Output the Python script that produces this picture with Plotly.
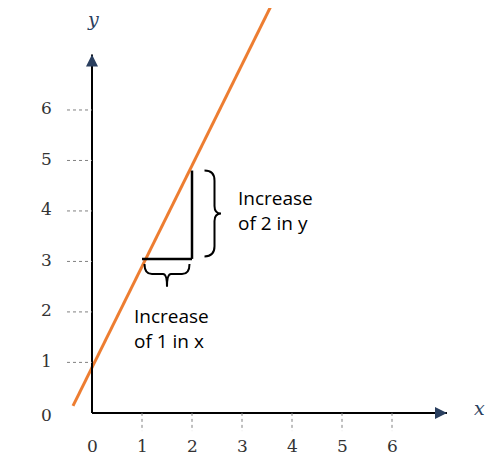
import plotly.graph_objects as go

tick_vals = [1, 2, 3, 4, 5, 6]
line_x = [-0.38, 3.58]
slope = 2
intercept = 0.9
rise_start = [1, 3.05]
rise_end = [2, 4.8]

fig = go.Figure()
fig.add_scatter(x=line_x, y=[slope * v + intercept for v in line_x], mode="lines",
                line=dict(color="#ED7D31", width=3), hoverinfo="skip")

shapes = []
# axes
shapes.append(dict(type="line", x0=0, y0=0, x1=7.1, y1=0, line=dict(color="black", width=2)))
shapes.append(dict(type="line", x0=0, y0=0, x1=0, y1=7.1, line=dict(color="black", width=2)))
# dotted ticks
for t in tick_vals:
    shapes.append(dict(type="line", x0=t, y0=0, x1=t, y1=-0.36, line=dict(color="gray", width=1, dash="dot")))
    shapes.append(dict(type="line", x0=-0.5, y0=t, x1=0, y1=t, line=dict(color="gray", width=1, dash="dot")))
# triangle
shapes.append(dict(type="line", x0=rise_start[0], y0=rise_start[1], x1=rise_end[0], y1=rise_start[1], line=dict(color="black", width=2.5)))
shapes.append(dict(type="line", x0=rise_end[0], y0=rise_start[1], x1=rise_end[0], y1=rise_end[1], line=dict(color="black", width=2.5)))
# vertical brace
vb = "M 2.25,4.8 Q 2.45,4.8 2.45,4.6 L 2.45,4.1 Q 2.45,3.95 2.58,3.95 Q 2.45,3.95 2.45,3.8 L 2.45,3.3 Q 2.45,3.1 2.25,3.1"
shapes.append(dict(type="path", path=vb, line=dict(color="black", width=2)))
# horizontal brace
hb = "M 1.05,2.95 Q 1.05,2.75 1.2,2.75 L 1.42,2.75 Q 1.5,2.75 1.5,2.5 Q 1.5,2.75 1.58,2.75 L 1.8,2.75 Q 1.95,2.75 1.95,2.95"
shapes.append(dict(type="path", path=hb, line=dict(color="black", width=2)))

ann = []
ann.append(dict(x=7.1, y=0, ax=6.85, ay=0, xref="x", yref="y", axref="x", ayref="y", text="",
                showarrow=True, arrowhead=2, arrowsize=1.2, arrowwidth=2))
ann.append(dict(x=0, y=7.1, ax=0, ay=6.85, xref="x", yref="y", axref="x", ayref="y", text="",
                showarrow=True, arrowhead=2, arrowsize=1.2, arrowwidth=2))
for t in [0] + tick_vals:
    ann.append(dict(x=t, y=-0.65, text=str(t), showarrow=False, font=dict(size=17, color="#333", family="DejaVu Serif")))
for t in [0] + tick_vals:
    ann.append(dict(x=-0.92, y=t + (0.03 if t else -0.05), text=str(t), showarrow=False, font=dict(size=17, color="#333", family="DejaVu Serif")))
ann.append(dict(x=7.75, y=0.1, text="<i>x</i>", showarrow=False, font=dict(size=19, family="DejaVu Serif")))
ann.append(dict(x=0.02, y=7.8, text="<i>y</i>", showarrow=False, font=dict(size=19, family="DejaVu Serif")))
ann.append(dict(x=2.88, y=4.0, text="Increase<br>of 2 in y", showarrow=False, xanchor="left", align="left",
                font=dict(size=19, color="black", family="Open Sans")))
ann.append(dict(x=0.8, y=1.68, text="Increase<br>of 1 in x", showarrow=False, xanchor="left", align="left",
                font=dict(size=19, color="black", family="Open Sans")))

fig.update_layout(
    width=500, height=470, margin=dict(l=0, r=0, t=0, b=0),
    plot_bgcolor="white", paper_bgcolor="white", showlegend=False,
    xaxis=dict(range=[-1.68, 8.32], visible=False),
    yaxis=dict(range=[-1.29, 8.02], visible=False),
    shapes=shapes, annotations=ann,
)
fig.write_html("out.html")
